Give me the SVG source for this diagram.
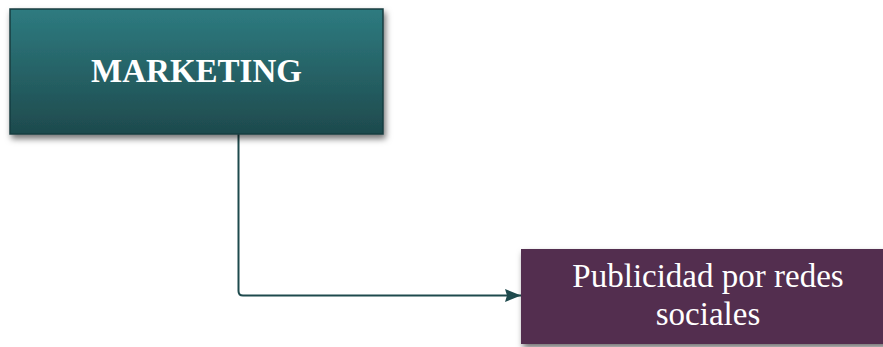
<svg xmlns="http://www.w3.org/2000/svg" width="883" height="347" viewBox="0 0 883 347">
<style>
.lbl{font-family:"Liberation Serif","Times New Roman",serif;fill:#ffffff;text-anchor:middle}
.conn{fill:none;stroke:#1e4a4d;stroke-width:2}
</style>
<defs>
<linearGradient id="teal" x1="0" y1="0" x2="0" y2="1">
<stop offset="0" stop-color="#2e7b80"/>
<stop offset="1" stop-color="#1e4a4d"/>
</linearGradient>
<filter id="sh" x="-10%" y="-10%" width="125%" height="140%">
<feDropShadow dx="2" dy="4" stdDeviation="3" flood-color="#000" flood-opacity="0.55"/>
</filter>
<marker id="arr" markerWidth="16" markerHeight="13" refX="16" refY="6.5" orient="auto" markerUnits="userSpaceOnUse">
<path d="M0,0 L16,6.5 L0,13 L2,6.5 Z" fill="#1e4a4d"/>
</marker>
</defs>
<rect width="883" height="347" fill="#ffffff"/>
<g id="connectors">
<path class="conn" d="M238.5,134 V291 Q238.5,295.5 243,295.5 H521" marker-end="url(#arr)"/>
</g>
<g id="marketing">
<rect x="10" y="9" width="373" height="125" fill="url(#teal)" stroke="#173e40" stroke-width="1.5" filter="url(#sh)"/>
<text class="lbl" x="196.5" y="81.5" font-size="33" font-weight="bold">MARKETING</text>
</g>
<g id="publicidad">
<rect x="521" y="249" width="370" height="95" fill="#522e50" filter="url(#sh)"/>
<text class="lbl" x="708" y="287" font-size="33">Publicidad por redes</text>
<text class="lbl" x="708" y="325" font-size="33">sociales</text>
</g>
</svg>
